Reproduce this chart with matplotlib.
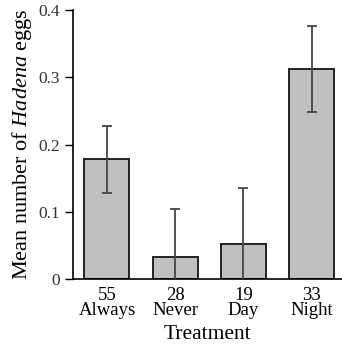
import matplotlib.pyplot as plt
import numpy as np

plt.rcParams['font.family'] = ['Liberation Serif', 'DejaVu Serif']
plt.rcParams['mathtext.fontset'] = 'custom'
plt.rcParams['mathtext.rm'] = 'Liberation Serif'
plt.rcParams['mathtext.it'] = 'Liberation Serif:italic'

treatments = ["Always", "Never", "Day", "Night"]
sample_sizes = [55, 28, 19, 33]
mean_eggs = [0.178, 0.033, 0.052, 0.312]
se_eggs = [0.050, 0.071, 0.083, 0.064]

fig = plt.figure(figsize=(3.42, 3.5), dpi=100)
ax = fig.add_axes([0.213, 0.203, 0.79, 0.768])

x = np.arange(len(treatments))
ax.bar(x, mean_eggs, width=0.66, color="#c0c0c0", edgecolor="#222222", linewidth=1.4, zorder=2)
ax.errorbar(x, mean_eggs, yerr=se_eggs, fmt="none", ecolor="#444444", elinewidth=1.3,
            capsize=3.5, capthick=1.3, zorder=3)

ax.set_ylim(0, 0.4)
ax.set_xlim(-0.5, 3.46)
ax.set_yticks([0, 0.1, 0.2, 0.3, 0.4])
ax.set_yticklabels(["0", "0.1", "0.2", "0.3", "0.4"])
ax.set_xticks(x)
ax.set_xticklabels([f"{n}\n{t}" for n, t in zip(sample_sizes, treatments)], linespacing=0.85)
ax.tick_params(axis="x", length=0, pad=6, labelsize=13.5)
ax.tick_params(axis="y", direction="out", length=6, width=1, labelsize=12.5, labelcolor="#333333")
for s in ["top", "right"]:
    ax.spines[s].set_visible(False)
ax.spines["left"].set_linewidth(1.2)
ax.spines["bottom"].set_linewidth(1.2)

ax.set_ylabel("Mean number of $\\mathit{Hadena}$ eggs", fontsize=16, labelpad=3)
ax.set_xlabel("Treatment", fontsize=15.5, labelpad=4)

fig.savefig("out.png", dpi=100)
